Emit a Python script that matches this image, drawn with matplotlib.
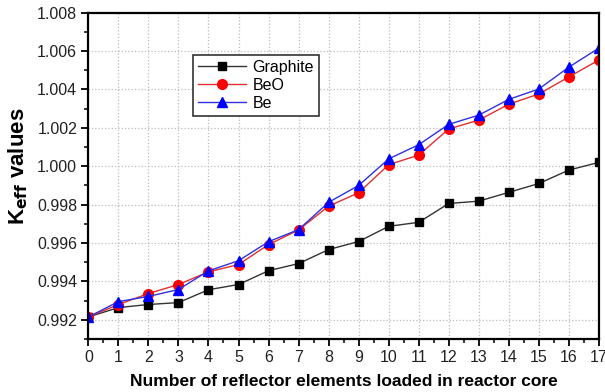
import matplotlib
matplotlib.use("Agg")
import matplotlib.pyplot as plt
from matplotlib.ticker import MultipleLocator

plt.rcParams['font.family'] = ['Liberation Sans', 'DejaVu Sans']

n_elements = list(range(18))
graphite = [0.99215, 0.99264, 0.99280, 0.99290, 0.99357, 0.99384, 0.99456, 0.99493,
            0.99566, 0.99608, 0.99687, 0.99708, 0.99806, 0.99818, 0.99864, 0.99910,
            0.99980, 1.00020]
beo = [0.99215, 0.99280, 0.99337, 0.99384, 0.99450, 0.99488, 0.99592, 0.99668,
       0.99792, 0.99862, 1.00008, 1.00058, 1.00194, 1.00240, 1.00323, 1.00376,
       1.00465, 1.00553]
be = [0.99215, 0.99295, 0.99322, 0.99358, 0.99455, 0.99508, 0.99607, 0.99670,
      0.99812, 0.99900, 1.00038, 1.00112, 1.00218, 1.00266, 1.00348, 1.00402,
      1.00516, 1.00615]

fig = plt.figure(figsize=(6.05, 3.92), dpi=100)
ax = fig.add_axes([0.146, 0.135, 0.844, 0.833])

ax.plot(n_elements, graphite, color='#333333', lw=1, marker='s', ms=6,
        mfc='black', mec='black', label='Graphite')
ax.plot(n_elements, beo, color='#e03030', lw=1, marker='o', ms=7,
        mfc='red', mec='red', label='BeO')
ax.plot(n_elements, be, color='#3030e0', lw=1, marker='^', ms=7.5,
        mfc='blue', mec='blue', label='Be')

ax.set_xlim(0, 17)
ax.set_ylim(0.991, 1.008)
ax.xaxis.set_major_locator(MultipleLocator(1))
ax.xaxis.set_minor_locator(MultipleLocator(0.5))
ax.yaxis.set_major_locator(MultipleLocator(0.002))
ax.yaxis.set_minor_locator(MultipleLocator(0.001))
ax.yaxis.set_major_formatter(matplotlib.ticker.FormatStrFormatter('%.3f'))

ax.grid(True, which='major', ls=':', color='#bbbbbb', lw=0.9)
ax.tick_params(which='major', direction='out', length=5, width=1.3, labelsize=11.5,
               labelcolor='#222222', pad=3)
ax.tick_params(which='minor', direction='out', length=3, width=1.1)
ax.tick_params(top=False, right=False)
for s in ax.spines.values():
    s.set_linewidth(1.6)

ax.set_xlabel('Number of reflector elements loaded in reactor core',
              fontsize=12.5, fontweight='bold', labelpad=6)
ax.set_ylabel(r'K$_{\mathbf{eff}}$ values', fontsize=16, fontweight='bold')
ax.yaxis.set_label_coords(-0.115, 0.53)

leg = ax.legend(loc='upper left', bbox_to_anchor=(0.19, 0.895), fontsize=11.5,
                fancybox=False, edgecolor='#333333', framealpha=1,
                handlelength=3, borderpad=0.3, labelspacing=0.2, handletextpad=0.4)
leg.get_frame().set_linewidth(1.2)

plt.savefig('out.png', dpi=100)
